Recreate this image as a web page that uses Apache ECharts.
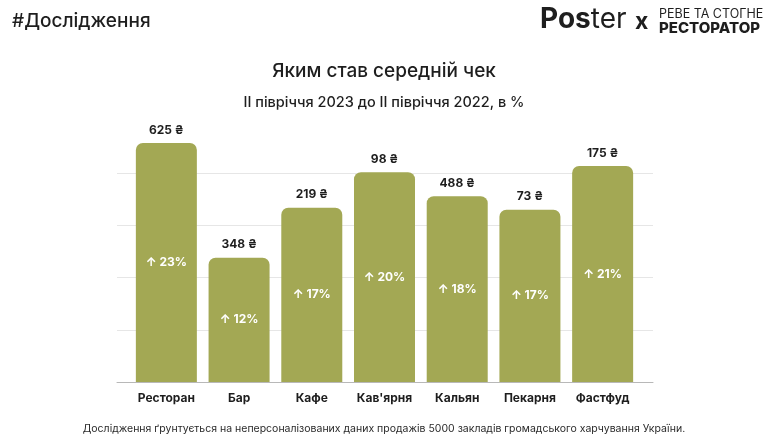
<!DOCTYPE html>
<html>
<head>
<meta charset="utf-8">
<script src="https://cdn.jsdelivr.net/npm/echarts@6/dist/echarts.min.js"></script>
<style>
html,body{margin:0;padding:0;background:#fff;}
#chart{width:768px;height:440px;}
</style>
</head>
<body>
<div id="chart"></div>
<script>
const categories = ['Ресторан', 'Бар', 'Кафе', "Кав'ярня", 'Кальян', 'Пекарня', 'Фастфуд'];
const growthValues = [22.9, 11.9, 16.7, 20.1, 17.8, 16.5, 20.7];
const growthLabels = ['↑ 23%', '↑ 12%', '↑ 17%', '↑ 20%', '↑ 18%', '↑ 17%', '↑ 21%'];
const checkLabels = ['625 ₴', '348 ₴', '219 ₴', '98 ₴', '488 ₴', '73 ₴', '175 ₴'];
const yTicks = { min: 0, max: 25, interval: 5 };

const FONT = 'Inter, "Noto Sans", sans-serif';
const chart = echarts.init(document.getElementById('chart'), null, { renderer: 'canvas' });

chart.setOption({
  backgroundColor: '#ffffff',
  animation: false,
  textStyle: { fontFamily: FONT },
  title: [
    { text: 'Яким став середній чек', left: 'center', top: 57,
      textStyle: { fontFamily: FONT, fontSize: 19, fontWeight: 500, color: '#1e1e1e' } },
    { text: 'II півріччя 2023 до II півріччя 2022, в %', left: 'center', top: 90,
      textStyle: { fontFamily: FONT, fontSize: 14.5, fontWeight: 500, color: '#1e1e1e' } },
    { text: '#Дослідження', left: 7, top: 7,
      textStyle: { fontFamily: FONT, fontSize: 19, fontWeight: 500, color: '#1e1e1e' } },
    { text: 'Дослідження ґрунтується на неперсоналізованих даних продажів 5000 закладів громадського харчування України.',
      left: 'center', top: 418,
      textStyle: { fontFamily: FONT, fontSize: 10.5, fontWeight: 400, color: '#2a2a2a' } }
  ],
  graphic: [
    { type: 'text', left: 540, top: 6,
      style: { text: '{a|Pos}{b|ter}', fontFamily: FONT,
        rich: {
          a: { fontFamily: FONT, fontSize: 28, fontWeight: 700, fill: '#1e1e1e' },
          b: { fontFamily: FONT, fontSize: 28, fontWeight: 400, fill: '#1e1e1e' }
        } } },
    { type: 'text', left: 635, top: 11,
      style: { text: 'x', fontFamily: FONT, fontSize: 23, fontWeight: 700, fill: '#1e1e1e' } },
    { type: 'text', left: 659, top: 8,
      style: { text: 'РЕВЕ ТА СТОГНЕ', fontFamily: FONT, fontSize: 12.5, fontWeight: 400, fill: '#1e1e1e' } },
    { type: 'text', left: 659, top: 21,
      style: { text: 'РЕСТОРАТОР', fontFamily: FONT, fontSize: 15, fontWeight: 800, fill: '#1e1e1e' } }
  ],
  grid: [
    { left: 117, right: 115, top: 121, bottom: 58 },
    { left: 130, right: 129, top: 121, bottom: 58 }
  ],
  xAxis: [
    { type: 'category', gridIndex: 0, data: [''],
      axisLine: { show: true, lineStyle: { color: '#b8b8b8', width: 1 } },
      axisTick: { show: false }, axisLabel: { show: false }, splitLine: { show: false } },
    { type: 'category', gridIndex: 1, data: categories,
      axisLine: { show: false }, axisTick: { show: false },
      axisLabel: { interval: 0, margin: 10, fontFamily: FONT, fontSize: 12, fontWeight: 700, color: '#1e1e1e' } }
  ],
  yAxis: [
    { type: 'value', gridIndex: 0, min: yTicks.min, max: yTicks.max, interval: yTicks.interval,
      axisLine: { show: false }, axisTick: { show: false }, axisLabel: { show: false },
      splitLine: { show: true, showMinLine: false, showMaxLine: false, lineStyle: { color: '#e6e6e6', width: 1 } } },
    { type: 'value', gridIndex: 1, min: yTicks.min, max: yTicks.max, interval: yTicks.interval,
      show: false, splitLine: { show: false } }
  ],
  series: [
    { type: 'bar', xAxisIndex: 1, yAxisIndex: 1, data: growthValues, barWidth: 61,
      itemStyle: { color: '#a3a854', borderRadius: [7, 7, 0, 0] },
      label: { show: true, position: 'inside',
        formatter: p => growthLabels[p.dataIndex],
        fontFamily: FONT, fontSize: 12, fontWeight: 700, color: '#ffffff' } },
    { type: 'bar', xAxisIndex: 1, yAxisIndex: 1, data: growthValues, barWidth: 61, barGap: '-100%',
      silent: true, itemStyle: { color: 'rgba(0,0,0,0)' },
      label: { show: true, position: 'top', distance: 7,
        formatter: p => checkLabels[p.dataIndex],
        fontFamily: FONT, fontSize: 12, fontWeight: 700, color: '#1e1e1e' } }
  ]
});
</script>
</body>
</html>
